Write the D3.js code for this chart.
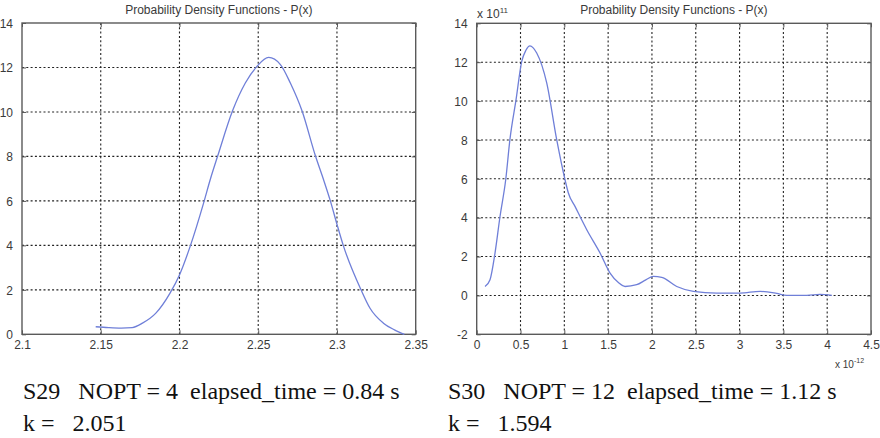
<!DOCTYPE html>
<html>
<head>
<meta charset="utf-8">
<script src="https://cdn.jsdelivr.net/npm/d3@7"></script>
<style>
  body { margin: 0; background: #fff; }
  svg { display: block; }
  .tick text { font-family: "Liberation Sans", Arial, sans-serif; font-size: 12px; fill: #3a3a3a; }
  .title { font-family: "Liberation Sans", Arial, sans-serif; font-size: 12px; fill: #3a3a3a; }
  .caption { font-family: "Liberation Serif", "Times New Roman", serif; font-size: 24px; fill: #111; white-space: pre; }
</style>
</head>
<body>
<script>
// S29 panel: x in natural units
const leftX = [2.1468, 2.155, 2.163, 2.170, 2.1765, 2.185, 2.194, 2.200, 2.207, 2.2153, 2.2195, 2.2244, 2.2337, 2.2418, 2.2492, 2.2566, 2.2641, 2.2704, 2.2778, 2.2862, 2.2915, 2.2958, 2.300, 2.304, 2.3153, 2.321, 2.3295, 2.3365, 2.3428];
const leftY = [0.34, 0.30, 0.28, 0.30, 0.50, 0.95, 1.85, 2.67, 4.0, 5.9, 6.95, 8.05, 10.05, 11.3, 12.05, 12.45, 12.13, 11.3, 10.05, 8.05, 6.95, 6.0, 4.95, 4.0, 2.0, 1.17, 0.5, 0.2, 0.0];
const leftXTicks = [2.1, 2.15, 2.2, 2.25, 2.3, 2.35];
const leftYTicks = [0, 2, 4, 6, 8, 10, 12, 14];

// S30 panel: x in units of 1e-12, y in units of 1e11
const rightX = [0.095, 0.152, 0.209, 0.266, 0.331, 0.38, 0.449, 0.514, 0.56, 0.608, 0.685, 0.799, 0.913, 1.008, 1.046, 1.122, 1.256, 1.408, 1.522, 1.62, 1.693, 1.826, 1.93, 2.016, 2.112, 2.283, 2.473, 2.74, 3.006, 3.234, 3.425, 3.539, 3.767, 3.919, 4.053];
const rightY = [0.46, 0.81, 2.18, 4.06, 5.95, 8.05, 10.07, 12.04, 12.6, 12.84, 12.47, 10.93, 8.01, 5.95, 5.27, 4.58, 3.38, 2.18, 1.15, 0.65, 0.46, 0.55, 0.8, 0.98, 0.93, 0.46, 0.21, 0.12, 0.12, 0.21, 0.1, 0.0, 0.0, 0.05, 0.0];
const rightXTicks = [0, 0.5, 1, 1.5, 2, 2.5, 3, 3.5, 4, 4.5];
const rightYTicks = [-2, 0, 2, 4, 6, 8, 10, 12, 14];

const titleText = "Probability Density Functions - P(x)";
const captions = [
  ["S29   NOPT = 4  elapsed_time = 0.84 s", "k =   2.051"],
  ["S30   NOPT = 12  elapsed_time = 1.12 s", "k =   1.594"]
];

const width = 880, height = 438;
const svg = d3.select("body").append("svg").attr("width", width).attr("height", height);
svg.append("rect").attr("width", width).attr("height", height).attr("fill", "#fff");

function panel(opts) {
  const x = d3.scaleLinear().domain(opts.xDomain).range([opts.left, opts.right]);
  const y = d3.scaleLinear().domain(opts.yDomain).range([opts.bottom, opts.top]);
  const g = svg.append("g");
  const fmt = d => String(d);

  // dotted grid
  g.append("g").selectAll("line").data(opts.xTicks.slice(1, -1)).join("line")
    .attr("x1", d => x(d)).attr("x2", d => x(d))
    .attr("y1", opts.top).attr("y2", opts.bottom)
    .attr("stroke", "#222").attr("stroke-width", 1.1).attr("stroke-dasharray", "2,2.3");
  g.append("g").selectAll("line").data(opts.yTicks.slice(1, -1)).join("line")
    .attr("x1", opts.left).attr("x2", opts.right)
    .attr("y1", d => y(d)).attr("y2", d => y(d))
    .attr("stroke", "#222").attr("stroke-width", 1.1).attr("stroke-dasharray", "2,2.3");

  // axes with inward ticks
  const xb = g.append("g").attr("transform", `translate(0,${opts.bottom})`)
    .call(d3.axisBottom(x).tickValues(opts.xTicks).tickSize(-4).tickPadding(8).tickFormat(fmt));
  const xt = g.append("g").attr("transform", `translate(0,${opts.top})`)
    .call(d3.axisTop(x).tickValues(opts.xTicks).tickSize(-4).tickFormat(""));
  const yl = g.append("g").attr("transform", `translate(${opts.left},0)`)
    .call(d3.axisLeft(y).tickValues(opts.yTicks).tickSize(-4).tickPadding(9).tickFormat(fmt));
  const yr = g.append("g").attr("transform", `translate(${opts.right},0)`)
    .call(d3.axisRight(y).tickValues(opts.yTicks).tickSize(-4).tickFormat(""));
  [xb, xt, yl, yr].forEach(a => {
    a.select(".domain").remove();
    a.selectAll(".tick line").attr("stroke", "#555").attr("stroke-width", 1);
  });
  xb.selectAll(".tick text").attr("dy", "0.55em");
  yl.selectAll(".tick text").attr("dy", "0.35em");
  g.append("rect").attr("x", opts.left).attr("y", opts.top)
    .attr("width", opts.right - opts.left).attr("height", opts.bottom - opts.top)
    .attr("fill", "none").attr("stroke", "#5a5a5a").attr("stroke-width", 1.4);

  // curve
  const pts = opts.xs.map((v, i) => [v, opts.ys[i]]);
  g.append("path").datum(pts)
    .attr("fill", "none").attr("stroke", "#6f7fd8").attr("stroke-width", 1.3)
    .attr("d", d3.line().x(d => x(d[0])).y(d => y(d[1])).curve(d3.curveMonotoneX));

  g.append("text").attr("class", "title")
    .attr("x", (opts.left + opts.right) / 2).attr("y", 14)
    .attr("text-anchor", "middle").text(titleText);
  return { x, y, g };
}

panel({ left: 22, right: 415.7, top: 23, bottom: 334.3,
  xDomain: [2.1, 2.35], yDomain: [0, 14], xTicks: leftXTicks, yTicks: leftYTicks, xs: leftX, ys: leftY });

const rp = panel({ left: 476.7, right: 871, top: 23.3, bottom: 334.3,
  xDomain: [0, 4.5], yDomain: [-2, 14], xTicks: rightXTicks, yTicks: rightYTicks, xs: rightX, ys: rightY });

// exponent labels
const e1 = rp.g.append("text").attr("class", "title").attr("x", 477).attr("y", 18);
e1.append("tspan").text("x 10");
e1.append("tspan").attr("dy", -5).style("font-size", "8px").text("11");
const e2 = rp.g.append("text").attr("class", "title").attr("x", 835).attr("y", 368).style("font-size", "10px");
e2.append("tspan").text("x 10");
e2.append("tspan").attr("dy", -5).style("font-size", "7px").text("-12");

// captions under each panel
const capX = [23, 448];
captions.forEach((lines, i) => {
  lines.forEach((t, j) => {
    svg.append("text").attr("class", "caption")
      .attr("x", capX[i]).attr("y", 399 + j * 32).text(t);
  });
});
</script>
</body>
</html>
